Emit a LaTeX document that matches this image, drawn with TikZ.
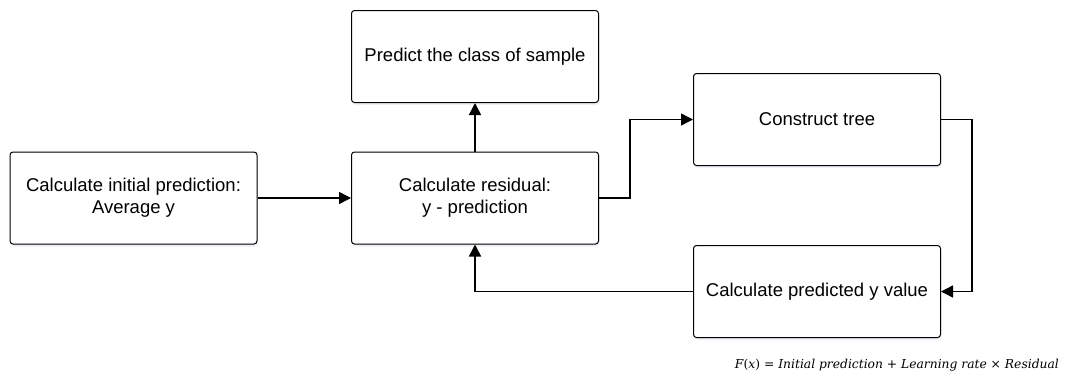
\documentclass[tikz,border=0pt]{standalone}
\usepackage{fontspec}
\setmainfont{Liberation Sans}
\newfontfamily\fml{DejaVu Serif}
\usetikzlibrary{arrows.meta,shadows}
\tikzset{
  proc/.style={draw=black, line width=1pt, rounded corners=3pt, fill=white,
    minimum width=247pt, minimum height=92pt, align=center, inner sep=0pt,
    font=\fontsize{18.5}{22}\selectfont,
    drop shadow={shadow xshift=1pt, shadow yshift=-2.5pt, opacity=0.25, fill=blue!25!gray!40}},
  conn/.style={line width=1.5pt, -{Triangle[length=12pt,width=12pt]}},
  formula/.style={anchor=east, inner sep=0pt, font=\fml\fontsize{12.3}{15}\selectfont}
}
\begin{document}
\begin{tikzpicture}[x=1pt,y=-1pt]
\useasboundingbox (0,0) rectangle (1065,378);
\node[proc] (init) at (133.5,198) {Calculate initial prediction:\\Average y};
\node[proc] (cls) at (475,56.5) {Predict the class of sample};
\node[proc] (res) at (475,198) {Calculate residual:\\y - prediction};
\node[proc] (tree) at (817,119.5) {Construct tree};
\node[proc] (pred) at (817,291.5) {Calculate predicted y value};
\coordinate (c1) at (630,198);
\coordinate (c2) at (972,119.5);
\draw[conn] (init.east) -- (res.west);
\draw[conn] (res.north) -- (cls.south);
\draw[conn] (res.east) -- (c1) |- (tree.west);
\draw[conn] (tree.east) -- (c2) |- (pred.east);
\draw[conn] (pred.west) -| (res.south);
\node[formula] (f) at (1059,365)
  {\textit{F}(\textit{x}) = \textit{Initial prediction} + \textit{Learning rate} × \textit{Residual}};
\end{tikzpicture}
\end{document}
